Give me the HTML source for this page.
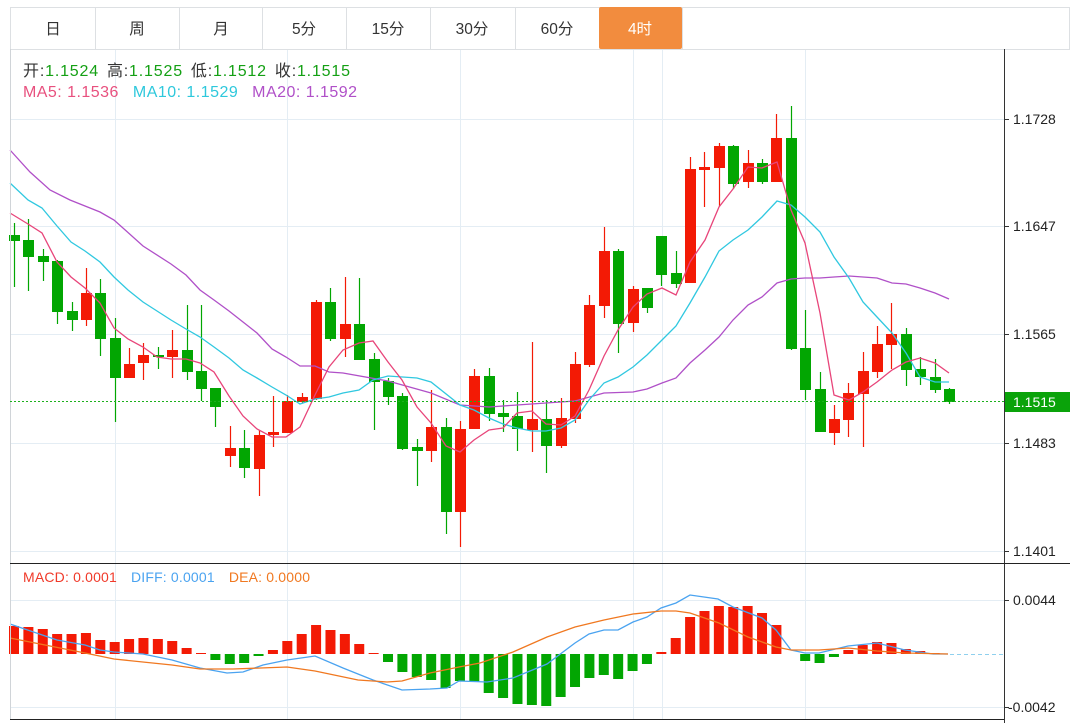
<!DOCTYPE html>
<html><head><meta charset="utf-8"><style>
html,body{margin:0;padding:0;background:#fff;width:1070px;height:723px;overflow:hidden;font-family:"Liberation Sans","Noto Sans CJK SC",sans-serif}
svg{position:absolute;left:0;top:0}
</style></head><body>
<svg id="s" width="1070" height="723" xmlns="http://www.w3.org/2000/svg" font-family="Liberation Sans, Noto Sans CJK SC, sans-serif">
<rect x="0" y="0" width="1070" height="723" fill="#fff"/>
<g id="grid" stroke="#e4edf4" stroke-width="1"></g>
<rect x="10.5" y="7.5" width="1059" height="42" fill="#fff" stroke="#dde0e3"/>
<g stroke="#dde0e3"><line x1="95.5" y1="8" x2="95.5" y2="49"/><line x1="179.5" y1="8" x2="179.5" y2="49"/><line x1="262.5" y1="8" x2="262.5" y2="49"/><line x1="346.5" y1="8" x2="346.5" y2="49"/><line x1="430.5" y1="8" x2="430.5" y2="49"/><line x1="515.5" y1="8" x2="515.5" y2="49"/><line x1="682.5" y1="8" x2="682.5" y2="49"/></g>
<rect x="599" y="7" width="83" height="42" fill="#f28c3e" rx="2"/>
<g font-size="15.5" fill="#333" text-anchor="middle">
<text x="53" y="34">日</text><text x="137" y="34">周</text><text x="221" y="34">月</text><text x="304" y="34">5分</text><text x="388" y="34">15分</text><text x="472" y="34">30分</text><text x="557" y="34">60分</text><text x="640" y="34" fill="#fff">4时</text></g>
<text x="23" y="76" font-size="16" textLength="327" lengthAdjust="spacing"><tspan fill="#333">开:</tspan><tspan fill="#14a014">1.1524</tspan><tspan fill="#333" dx="8">高:</tspan><tspan fill="#14a014">1.1525</tspan><tspan fill="#333" dx="8">低:</tspan><tspan fill="#14a014">1.1512</tspan><tspan fill="#333" dx="8">收:</tspan><tspan fill="#14a014">1.1515</tspan></text>
<text x="23" y="97" font-size="16" textLength="334" lengthAdjust="spacing"><tspan fill="#e8507e">MA5: 1.1536</tspan><tspan fill="#2ec8dc" dx="14">MA10: 1.1529</tspan><tspan fill="#b050c8" dx="14">MA20: 1.1592</tspan></text>
<text x="23" y="582" font-size="14" textLength="287" lengthAdjust="spacing"><tspan fill="#f03a2a">MACD: 0.0001</tspan><tspan fill="#4aa3f0" dx="14">DIFF: 0.0001</tspan><tspan fill="#f07820" dx="14">DEA: 0.0000</tspan></text>
<g id="c"></g>
<line x1="10.5" y1="49" x2="10.5" y2="719" stroke="#d0d4d8"/>
<line x1="1004.5" y1="49" x2="1004.5" y2="723" stroke="#333"/>
<line x1="10" y1="563.5" x2="1070" y2="563.5" stroke="#222"/>
<line x1="10" y1="719.5" x2="1004" y2="719.5" stroke="#222"/>
<g stroke="#333"><line x1="1004" y1="119.5" x2="1009" y2="119.5"/><line x1="1004" y1="226.5" x2="1009" y2="226.5"/><line x1="1004" y1="334.5" x2="1009" y2="334.5"/><line x1="1004" y1="443.5" x2="1009" y2="443.5"/><line x1="1004" y1="551.5" x2="1009" y2="551.5"/><line x1="1004" y1="600.5" x2="1009" y2="600.5"/><line x1="1004" y1="707.5" x2="1009" y2="707.5"/></g>
<g font-size="14" fill="#222"><text x="1013" y="124">1.1728</text><text x="1013" y="231">1.1647</text><text x="1013" y="339">1.1565</text><text x="1013" y="448">1.1483</text><text x="1013" y="556">1.1401</text><text x="1013" y="605">0.0044</text><text x="1008" y="712">-0.0042</text></g>
<line x1="10" y1="401.5" x2="1004" y2="401.5" stroke="#1cb01c" stroke-dasharray="2,2"/>
<rect x="1005" y="392" width="65" height="20" fill="#0aa30a"/>
<text x="1013" y="407" font-size="14" fill="#fff">1.1515</text>
<line x1="950" y1="654.5" x2="1004" y2="654.5" stroke="#8fd0ee" stroke-dasharray="4,3"/>
</svg>
<script>
var NS="http://www.w3.org/2000/svg",g=document.getElementById("c"),gr=document.getElementById("grid");
function el(t,a,p){var e=document.createElementNS(NS,t);for(var k in a)e.setAttribute(k,a[k]);(p||g).appendChild(e);return e;}
[119,226,334,443,551,600,707].forEach(function(y){el("line",{x1:10,x2:1004,y1:y+.5,y2:y+.5},gr)});
[115,287,460,633,662,805].forEach(function(x){el("line",{x1:x+.5,x2:x+.5,y1:49,y2:719},gr)});
var C=[["g",235,241,223,287],["g",240,257,219,291],["g",256,262,249,281],["g",261,312,260,324],["g",311,320,302,331],["r",293,320,268,326],["g",293,339,279,356],["g",338,378,318,422],["r",364,378,348,378],["r",355,363,343,380],["g",355,357,347,369],["r",350,357,330,378],["g",350,372,305,380],["g",371,389,305,401],["g",388,407,388,427],["r",448,456,426,467],["g",448,468,430,478],["r",435,469,430,496],["r",432,435,396,447],["r",401,433,395,433],["r",397,402,393,403],["r",302,399,300,400],["g",302,339,288,341],["r",324,339,277,357],["g",324,360,278,360],["g",359,382,353,430],["g",381,397,378,405],["g",396,449,393,450],["g",447,451,439,486],["r",427,451,390,462],["g",427,512,418,534],["r",429,512,421,547],["r",376,429,369,429],["g",376,414,368,421],["g",413,417,400,432],["g",416,429,392,451],["r",419,430,342,452],["g",419,446,400,473],["r",418,446,398,448],["r",364,419,352,423],["r",305,365,295,367],["r",251,306,227,318],["g",251,324,249,353],["r",289,323,286,332],["g",288,308,288,313],["g",236,275,236,286],["g",273,284,251,288],["r",169,283,157,283],["r",167,170,152,207],["r",146,168,143,206],["g",146,184,145,189],["r",163,182,150,188],["g",163,182,159,184],["r",138,182,114,182],["g",138,349,106,350],["g",348,390,310,400],["g",389,432,372,432],["r",419,433,405,445],["r",393,420,383,437],["r",371,394,352,447],["r",344,372,326,378],["r",334,345,303,369],["g",334,370,328,386],["g",369,377,357,385],["g",377,390,359,393],["g",389,402,388,404]];
var M=[626,627,629,634,634,633,640,642,639,638,639,641,648,653,660,664,663,656,650,641,634,625,630,634,644,653,662,672,677,680,688,681,682,693,698,704,705,706,697,687,678,675,679,671,664,652,638,617,611,606,607,606,613,625,654,661,663,657,650,645,642,643,649,651,653,654];
var R="#f31a05",G="#02a602",Z=654;
M.forEach(function(y,i){var x=14+i*14.385;if(Math.abs(y-Z)<1)return;var up=y<Z;el("rect",{x:x-5,y:up?y:Z,width:10,height:Math.abs(y-Z),fill:up?R:G});});
function pl(pts,c){el("polyline",{points:pts.map(function(p){return p.join(",")}).join(" "),fill:"none",stroke:c,"stroke-width":1.3});}
pl([[10,624],[57,640],[85,645],[100,650],[114,652],[143,654],[172,660],[200,668],[227,673],[243,672],[263,665],[287,660],[315,656],[343,668],[373,680],[402,690],[430,689],[447,688],[459,681],[487,682],[513,678],[547,664],[575,643],[589,634],[604,630],[618,630],[633,622],[647,617],[661,608],[676,603],[690,595],[718,599],[733,607],[762,618],[776,630],[791,650],[805,653],[819,653],[848,646],[877,643],[905,650],[933,654],[948,654]],"#4aa3f0");
pl([[10,638],[85,653],[114,659],[172,665],[200,669],[233,669],[287,667],[315,671],[358,680],[387,682],[402,681],[430,673],[459,667],[480,663],[513,652],[547,637],[575,627],[604,620],[633,614],[661,611],[676,611],[690,613],[719,623],[748,637],[776,647],[791,650],[819,650],[848,648],[877,651],[905,653],[948,654]],"#f07820");
C.forEach(function(c,i){var x=Math.round(14+i*14.385),col=c[0]=="r"?R:G;el("line",{x1:x+.5,x2:x+.5,y1:c[3],y2:c[4],stroke:col,"stroke-width":1.2});el("rect",{x:x-5,y:c[1],width:11,height:Math.max(1.5,c[2]-c[1]),fill:col});});
pl([[10,150],[30,172],[50,190],[70,200],[100,212],[114,220],[143,246],[171,264],[186,275],[200,290],[214,300],[229,311],[243,322],[257,333],[272,349],[286,357],[300,366],[315,366],[329,372],[343,373],[388,381],[431,393],[460,405],[489,407],[517,405],[546,403],[575,401],[604,393],[633,392],[647,389],[662,383],[676,378],[690,363],[705,350],[719,337],[733,320],[748,305],[762,297],[777,283],[791,279],[805,278],[820,278],[834,277],[849,276],[863,277],[877,278],[892,283],[906,284],[920,288],[935,293],[949,299]],"#b050c8");
pl([[10,183],[28,200],[42,208],[57,226],[71,242],[85,251],[100,262],[114,277],[128,290],[143,302],[157,311],[171,320],[186,329],[200,337],[214,347],[229,358],[243,370],[257,378],[272,387],[286,395],[300,404],[315,399],[329,397],[343,393],[359,390],[373,380],[388,376],[417,378],[431,382],[460,405],[474,410],[489,418],[503,424],[517,428],[532,431],[546,431],[561,428],[575,420],[589,400],[604,383],[618,377],[633,367],[647,355],[662,340],[676,326],[690,303],[705,277],[719,251],[733,240],[748,230],[762,217],[777,201],[791,205],[805,217],[820,232],[834,257],[849,278],[863,302],[877,317],[892,333],[906,353],[920,377],[935,382],[949,382]],"#30c8e0");
pl([[10,213],[28,224],[42,233],[57,262],[71,277],[85,288],[100,303],[114,328],[128,339],[143,347],[157,357],[171,359],[186,359],[200,363],[214,372],[229,396],[243,416],[257,429],[272,437],[286,437],[300,427],[315,395],[329,367],[343,350],[359,343],[373,341],[388,362],[402,380],[417,407],[431,423],[446,446],[460,452],[474,440],[489,430],[503,428],[517,413],[532,411],[546,424],[561,425],[575,416],[589,390],[604,356],[618,330],[633,307],[647,294],[662,288],[676,295],[690,262],[705,240],[719,207],[733,189],[748,167],[762,168],[777,162],[791,210],[805,243],[820,313],[834,395],[849,400],[863,392],[877,382],[892,370],[906,362],[920,358],[935,363],[949,373]],"#e8457a");
</script>
</body></html>
